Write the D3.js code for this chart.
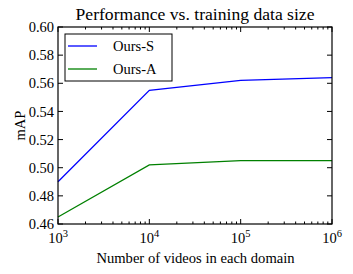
<!DOCTYPE html>
<html>
<head>
<meta charset="utf-8">
<script src="https://cdn.jsdelivr.net/npm/d3@7"></script>
<style>
  body { margin: 0; background: #fff; }
  text { font-family: "Liberation Serif", "DejaVu Serif", serif; fill: #000; }
</style>
</head>
<body>
<svg id="chart"></svg>
<script>
// Data
const sizes = [1e3, 1e4, 1e5, 1e6];
const oursS = [0.490, 0.555, 0.562, 0.564];
const oursA = [0.465, 0.502, 0.505, 0.505];
const seriesNames = ["Ours-S", "Ours-A"];
const seriesColors = ["#0000ff", "#008000"];
const yTicks = [0.46, 0.48, 0.50, 0.52, 0.54, 0.56, 0.58, 0.60];
const xTicks = [1e3, 1e4, 1e5, 1e6];

const width = 353, height = 274;
const margin = { top: 27, right: 21, bottom: 50, left: 58 };
const w = width - margin.left - margin.right;
const h = height - margin.top - margin.bottom;

const svg = d3.select("#chart").attr("width", width).attr("height", height);
const g = svg.append("g").attr("transform", `translate(${margin.left},${margin.top})`);

const x = d3.scaleLog().domain([1e3, 1e6]).range([0, w]);
const y = d3.scaleLinear().domain([0.46, 0.60]).range([h, 0]);

// Lines
const line = d3.line().x(d => x(d[0])).y(d => y(d[1]));
[oursS, oursA].forEach((vals, i) => {
  g.append("path")
    .datum(sizes.map((s, j) => [s, vals[j]]))
    .attr("d", line)
    .attr("fill", "none")
    .attr("stroke", seriesColors[i])
    .attr("stroke-width", 1.3);
});

// Ticks (inward, all sides)
const minor = [];
for (let e = 3; e < 6; e++) for (let k = 2; k < 10; k++) minor.push(k * Math.pow(10, e));
const tg = g.append("g").attr("stroke", "#000").attr("stroke-width", 1);
xTicks.forEach(t => {
  tg.append("line").attr("x1", x(t)).attr("x2", x(t)).attr("y1", h).attr("y2", h - 5);
  tg.append("line").attr("x1", x(t)).attr("x2", x(t)).attr("y1", 0).attr("y2", 5);
});
minor.forEach(t => {
  tg.append("line").attr("x1", x(t)).attr("x2", x(t)).attr("y1", h).attr("y2", h - 2.5);
  tg.append("line").attr("x1", x(t)).attr("x2", x(t)).attr("y1", 0).attr("y2", 2.5);
});
yTicks.forEach(t => {
  tg.append("line").attr("x1", 0).attr("x2", 5).attr("y1", y(t)).attr("y2", y(t));
  tg.append("line").attr("x1", w).attr("x2", w - 5).attr("y1", y(t)).attr("y2", y(t));
});

// Frame
g.append("rect").attr("width", w).attr("height", h)
  .attr("fill", "none").attr("stroke", "#000").attr("stroke-width", 1.2);

// Tick labels
yTicks.forEach(t => {
  g.append("text").attr("x", -4).attr("y", y(t)).attr("dy", "0.35em")
    .attr("text-anchor", "end").attr("font-size", 14.5).text(t.toFixed(2));
});
xTicks.forEach(t => {
  const lab = g.append("text").attr("x", x(t)).attr("y", h + 19)
    .attr("text-anchor", "middle").attr("font-size", 14.5);
  lab.append("tspan").text("10");
  lab.append("tspan").attr("font-size", 10.5).attr("dy", -6).text(Math.round(Math.log10(t)));
});

// Axis labels and title
svg.append("text").attr("x", margin.left + w / 2 + 0.5).attr("y", 263)
  .attr("text-anchor", "middle").attr("font-size", 14.6).text("Number of videos in each domain");
svg.append("text").attr("transform", `translate(25,${margin.top + h / 2}) rotate(-90)`)
  .attr("text-anchor", "middle").attr("font-size", 14.5).text("mAP");
svg.append("text").attr("x", margin.left + w / 2).attr("y", 20)
  .attr("text-anchor", "middle").attr("font-size", 17.6).text("Performance vs. training data size");

// Legend
const lg = g.append("g").attr("transform", "translate(7,7)");
lg.append("rect").attr("width", 107).attr("height", 47)
  .attr("fill", "#fff").attr("stroke", "#000").attr("stroke-width", 1);
seriesNames.forEach((name, i) => {
  const yy = 12 + i * 23;
  lg.append("line").attr("x1", 3).attr("x2", 32).attr("y1", yy).attr("y2", yy)
    .attr("stroke", seriesColors[i]).attr("stroke-width", 1.3);
  lg.append("text").attr("x", 48).attr("y", yy).attr("dy", "0.35em")
    .attr("font-size", 14.5).text(name);
});
</script>
</body>
</html>
